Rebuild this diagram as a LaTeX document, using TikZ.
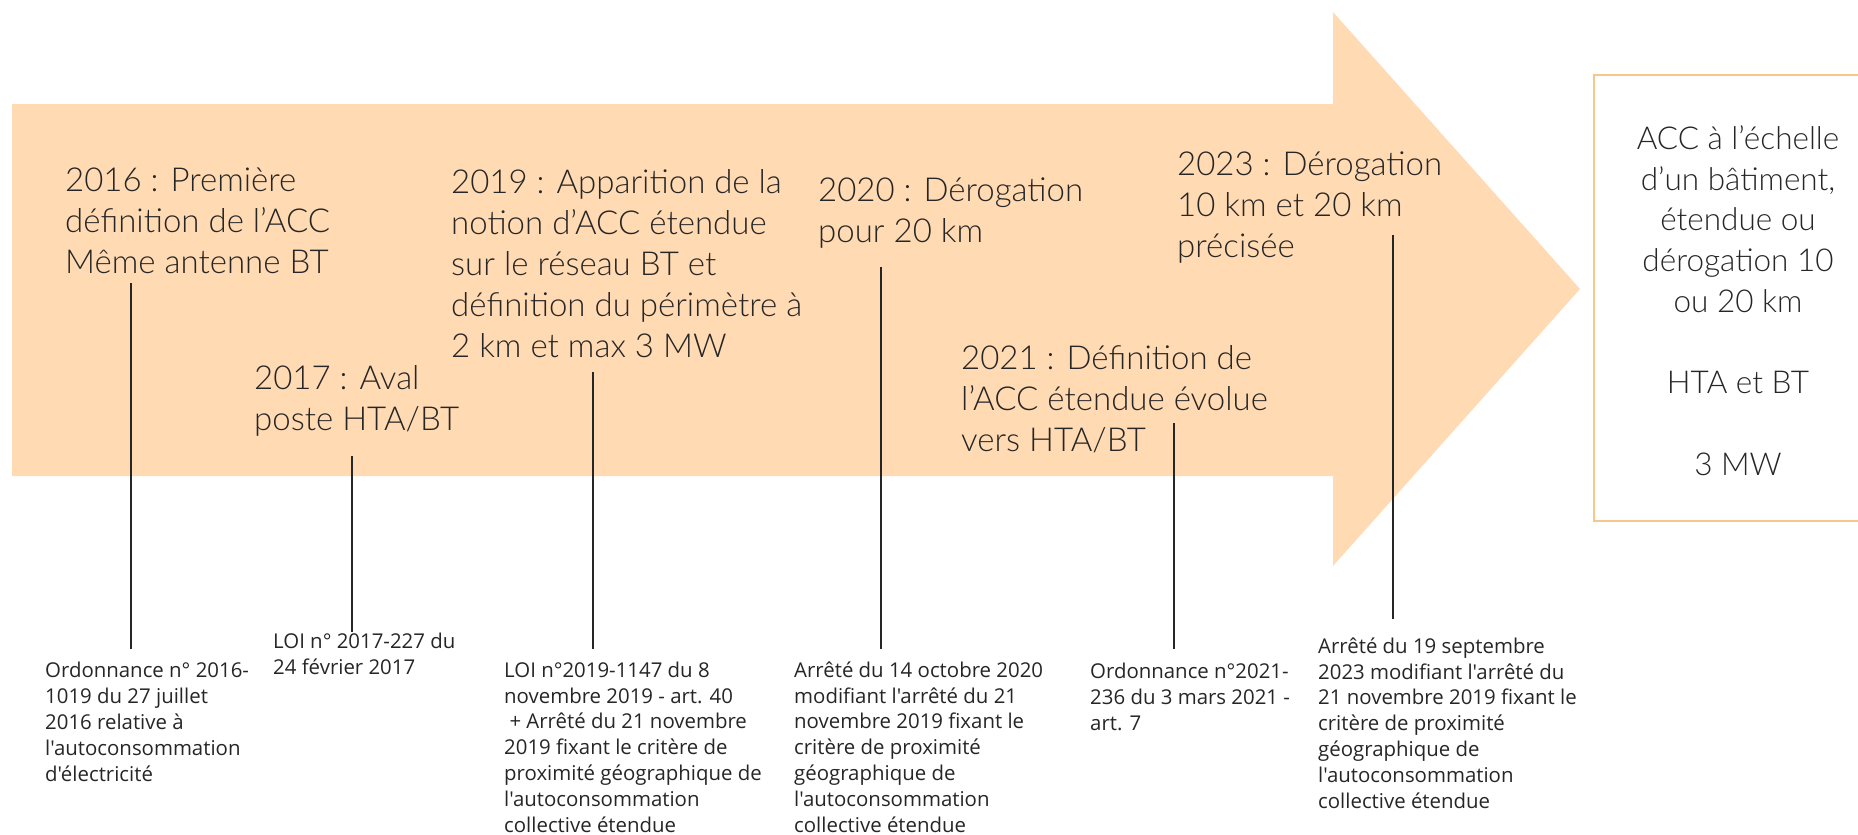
\documentclass[tikz,border=0pt]{standalone}
\usepackage{fontspec}
\setmainfont{Lato}
\newfontfamily\headfont{Lato Light}
\newfontfamily\notefont{Open Sans}
\definecolor{arrowfill}{HTML}{FFDAB3}
\definecolor{boxline}{HTML}{F8C58A}
\definecolor{txt}{HTML}{262626}
\begin{document}
\begin{tikzpicture}[x=1pt,y=-1pt,
  head/.style={anchor=base west, align=left, inner sep=0pt, text=txt,
    font=\headfont\fontsize{33}{41}\selectfont},
  final/.style={anchor=base, align=center, inner sep=0pt, text=txt,
    font=\headfont\fontsize{31.5}{40.7}\selectfont},
  note/.style={anchor=base west, align=left, inner sep=0pt, text=txt,
    font=\notefont\fontsize{20.4}{25.8}\selectfont},
  tick/.style={line width=1.6pt, draw=black!85}]
\useasboundingbox (0,0) rectangle (1858,835);
% arrow
\fill[arrowfill] (12,104) -- (1333,104) -- (1333,12) -- (1580,289)
  -- (1333,566) -- (1333,476) -- (12,476) -- cycle;
% final box
\draw[boxline, line width=2pt, fill=white] (1594,75) rectangle (1875,521);
\node[final] (fin) at (1738,475) {ACC à l’échelle\\d’un bâtiment,\\étendue ou\\dérogation 10\\ou 20 km\\[40.7pt]HTA et BT\\[40.7pt]3 MW};
% headings (anchored at the baseline of the last line)
\node[head] (h16) at (65,273) {2016 : Première\\définition de l’ACC\\Même antenne BT};
\node[head] (h17) at (254,430) {2017 : Aval\\poste HTA/BT};
\node[head] (h19) at (451,357) {2019 : Apparition de la\\notion d’ACC étendue\\sur le réseau BT et\\définition du périmètre à\\2 km et max 3 MW};
\node[head] (h20) at (818,242) {2020 : Dérogation\\pour 20 km};
\node[head] (h21) at (961,451) {2021 : Définition de\\l’ACC étendue évolue\\vers HTA/BT};
\node[head] (h23) at (1177,257) {2023 : Dérogation\\10 km et 20 km\\précisée};
% notes (anchored at the baseline of the last line)
\node[note] (n16) at (45,781) {Ordonnance n° 2016-\\1019 du 27 juillet\\2016 relative à\\l'autoconsommation\\d'électricité};
\node[note] (n17) at (273,674) {LOI n° 2017-227 du\\24 février 2017};
\node[note] (n19) at (504,832) {LOI n°2019-1147 du 8\\novembre 2019 - art. 40\\\ + Arrêté du 21 novembre\\2019 fixant le critère de\\proximité géographique de\\l'autoconsommation\\collective étendue};
\node[note] (n20) at (794,832) {Arrêté du 14 octobre 2020\\modifiant l'arrêté du 21\\novembre 2019 fixant le\\critère de proximité\\géographique de\\l'autoconsommation\\collective étendue};
\node[note] (n21) at (1090,730) {Ordonnance n°2021-\\236 du 3 mars 2021 -\\art. 7};
\node[note] (n23) at (1318,808) {Arrêté du 19 septembre\\2023 modifiant l'arrêté du\\21 novembre 2019 fixant le\\critère de proximité\\géographique de\\l'autoconsommation\\collective étendue};
% connector ends
\coordinate (t16) at (131,283);  \coordinate (b16) at (131,649);
\coordinate (t17) at (352,456);  \coordinate (b17) at (352,632);
\coordinate (t19) at (593,372);  \coordinate (b19) at (593,649);
\coordinate (t20) at (881,267);  \coordinate (b20) at (881,649);
\coordinate (t21) at (1174,423); \coordinate (b21) at (1174,649);
\coordinate (t23) at (1393,235); \coordinate (b23) at (1393,619);
\foreach \k in {16,17,19,20,21,23} { \draw[tick] (t\k) -- (b\k); }
\end{tikzpicture}
\end{document}
